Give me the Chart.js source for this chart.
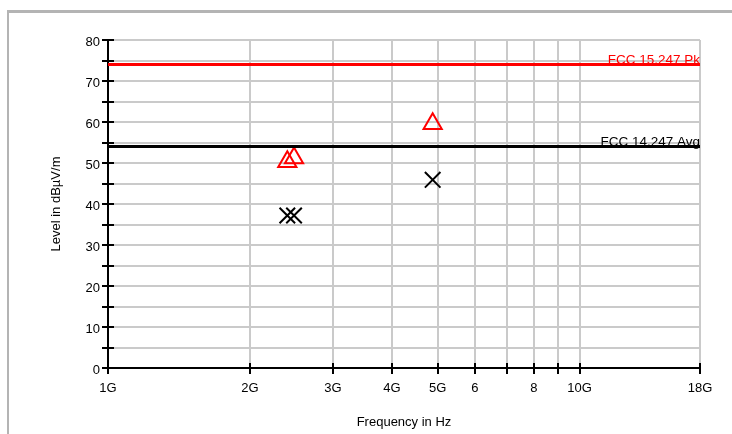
<!DOCTYPE html>
<html lang="en">
<head>
  <meta charset="UTF-8">
  <title>Radiated emissions</title>
  <script src="https://cdn.jsdelivr.net/npm/chart.js"></script>
  <style>
    html, body { margin: 0; padding: 0; background: #fff; overflow: hidden; }
    #frame { position: absolute; left: 7px; top: 10px; width: 900px; height: 600px;
             border-left: 2px solid #b4b4b4; border-top: 3px solid #b4b4b4; }
    #wrap { position: absolute; left: 0; top: 0; width: 732px; height: 434px; }
  </style>
</head>
<body>
  <div id="frame"></div>
  <div id="wrap"><canvas id="emiChart" width="732" height="434"></canvas></div>

  <script>
    // frequencies in GHz
    const limitFreq = [1, 18];
    const peakLimit = [74, 74];
    const avgLimit = [54, 54];
    const measFreq = [2.4, 2.48, 4.88];
    const peakLevels = [50.3, 51.2, 59.6];
    const avgLevels = [37.2, 37.2, 45.9];
    const xTicks = [1, 2, 3, 4, 5, 6, 7, 8, 9, 10, 18];
    const xTickLabels = ['1G', '2G', '3G', '4G', '5G', '6', '', '8', '', '10G', '18G'];
    const limitNames = ['FCC 15.247 Pk', 'FCC 14.247 Avg'];

    const font = { family: 'Liberation Sans, Arial, sans-serif', size: 13 };

    // small black tick marks inside the plot + limit line names
    const extras = {
      id: 'extras',
      afterDatasetsDraw(chart) {
        const { ctx, scales: { x, y } } = chart;
        ctx.save();
        ctx.strokeStyle = '#000';
        ctx.lineWidth = 2;
        xTicks.forEach(v => {
          const px = Math.round(x.getPixelForValue(v));
          ctx.beginPath(); ctx.moveTo(px, y.bottom); ctx.lineTo(px, y.bottom - 5); ctx.stroke();
        });
        for (let v = 0; v <= 80; v += 5) {
          const py = Math.round(y.getPixelForValue(v));
          ctx.beginPath(); ctx.moveTo(x.left, py); ctx.lineTo(x.left + 6, py); ctx.stroke();
        }
        ctx.font = '13.5px Liberation Sans, Arial, sans-serif';
        ctx.textAlign = 'right';
        ctx.textBaseline = 'alphabetic';
        ctx.fillStyle = '#ff0000';
        ctx.fillText(limitNames[0], x.right, y.getPixelForValue(peakLimit[1]) - 1);
        ctx.fillStyle = '#000';
        ctx.fillText(limitNames[1], x.right, y.getPixelForValue(avgLimit[1]) - 1);
        ctx.restore();
      }
    };

    new Chart(document.getElementById('emiChart'), {
      type: 'scatter',
      data: {
        datasets: [
          {
            label: limitNames[0],
            data: limitFreq.map((f, i) => ({ x: f, y: peakLimit[i] })),
            showLine: true, borderColor: '#ff0000', borderWidth: 3, pointRadius: 0
          },
          {
            label: limitNames[1],
            data: limitFreq.map((f, i) => ({ x: f, y: avgLimit[i] })),
            showLine: true, borderColor: '#000', borderWidth: 3, pointRadius: 0
          },
          {
            label: 'Peak',
            data: measFreq.map((f, i) => ({ x: f, y: peakLevels[i] })),
            pointStyle: 'triangle', pointRadius: 10.5, borderColor: '#ff0000',
            backgroundColor: 'rgba(0,0,0,0)', pointBorderWidth: 2
          },
          {
            label: 'Average',
            data: measFreq.map((f, i) => ({ x: f, y: avgLevels[i] })),
            pointStyle: 'crossRot', pointRadius: 11, borderColor: '#000',
            pointBorderWidth: 2
          }
        ]
      },
      options: {
        responsive: false,
        animation: false,
        layout: { padding: { left: 0, right: 32, top: 40, bottom: 0 } },
        plugins: { legend: { display: false }, tooltip: { enabled: false } },
        scales: {
          x: {
            type: 'logarithmic', min: 1, max: 18,
            afterBuildTicks: s => { s.ticks = xTicks.map(v => ({ value: v })); },
            afterFit: s => { s.height = 66; },
            ticks: {
              autoSkip: false, maxRotation: 0, padding: 7, color: '#000', font,
              callback: (v, i) => xTickLabels[i]
            },
            grid: { color: '#cacaca', lineWidth: 2, tickColor: '#000', tickLength: 6 },
            border: { color: '#000', width: 2 },
            title: { display: true, text: 'Frequency in Hz', color: '#000', font, padding: { top: 0, bottom: 4 } }
          },
          y: {
            min: 0, max: 80,
            afterFit: s => { s.width = 108; },
            ticks: {
              stepSize: 5, padding: 2, labelOffset: 2, color: '#000', font,
              callback: v => (v % 10 === 0 ? v : '')
            },
            grid: { color: '#cacaca', lineWidth: 2, tickColor: '#000', tickLength: 6 },
            border: { color: '#000', width: 2 },
            title: { display: true, text: 'Level in dBµV/m', color: '#000', font, padding: { top: 49, bottom: 0 } }
          }
        }
      },
      plugins: [extras]
    });
  </script>
</body>
</html>
